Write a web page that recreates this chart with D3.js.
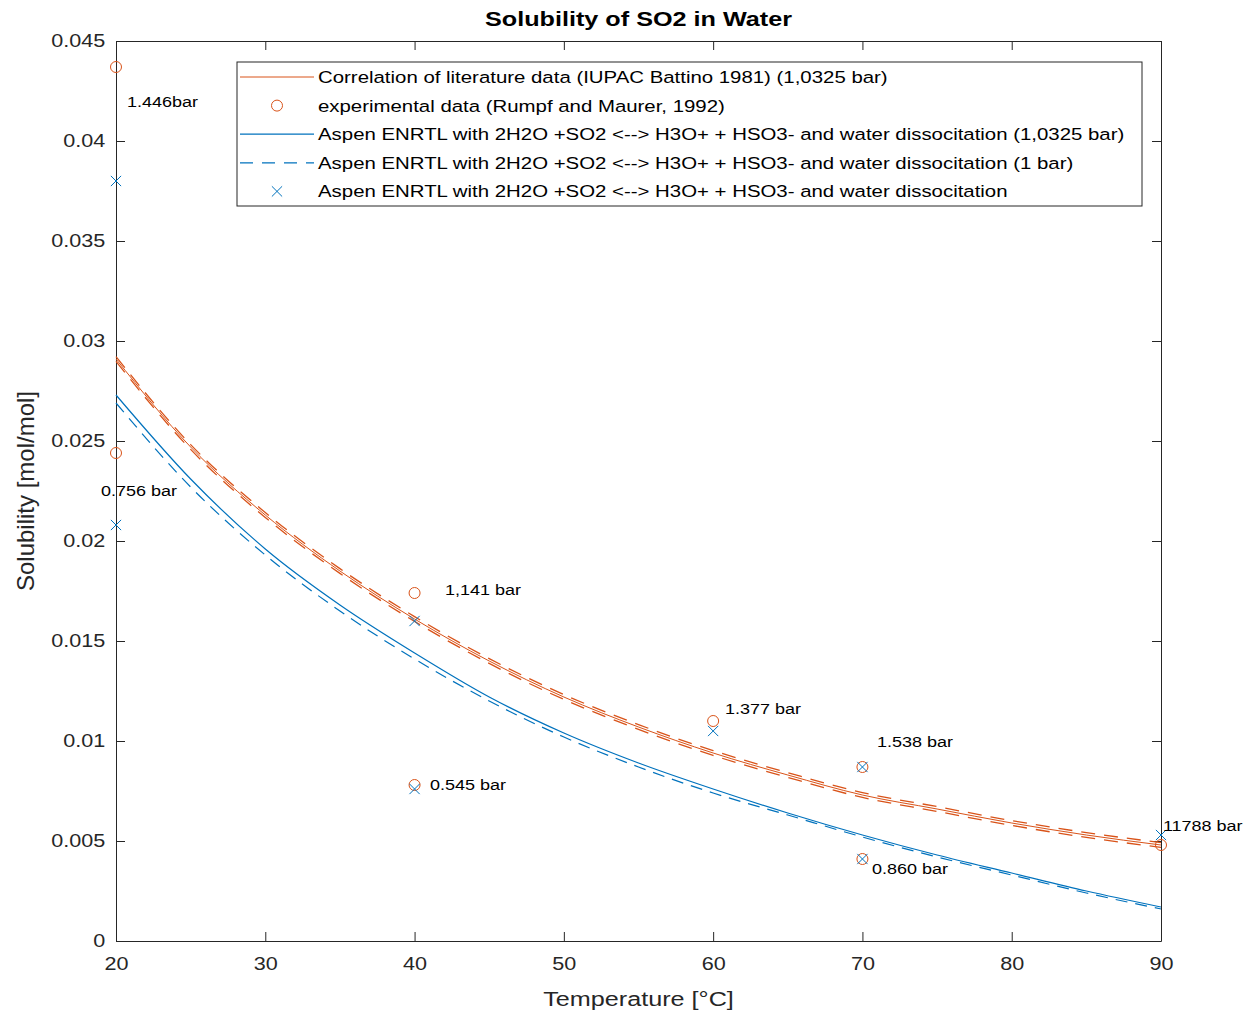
<!DOCTYPE html>
<html>
  <head>
    <meta charset=utf-8>
    <title>Solubility of SO2 in Water</title>
    <style>
      body{ margin:0; background:#fff; }
      text{ font-family:"Liberation Sans", Arial, sans-serif; fill:#262626; }
      .tick line{ stroke:#262626; }
      .domain{ stroke:#262626; }
    </style>
  </head>
  <body>
    <script src="https://d3js.org/d3.v7.min.js"></script>
    <script>
      // temperatures of the model curves [°C]
      var temps = [20, 25, 30, 35, 40, 45, 50, 55, 60, 65, 70, 75, 80, 85, 90];
      // literature correlation (1,0325 bar) and its band
      var corr    = [0.0291, 0.0247, 0.0213, 0.0185, 0.0161, 0.0140, 0.0122, 0.0107, 0.0094, 0.0083, 0.0073, 0.0066, 0.0059, 0.0053, 0.0048];
      var corrHi  = [0.02922, 0.02482, 0.02142, 0.01862, 0.01622, 0.01412, 0.01232, 0.01082, 0.00952, 0.00842, 0.00742, 0.00672, 0.00602, 0.00542, 0.00492];
      var corrLo  = [0.02898, 0.02458, 0.02118, 0.01838, 0.01598, 0.01388, 0.01208, 0.01058, 0.00928, 0.00818, 0.00718, 0.00648, 0.00578, 0.00518, 0.00468];
      // Aspen ENRTL model
      var aspen1032 = [0.0273, 0.0231, 0.0196, 0.0168, 0.0144, 0.0122, 0.0104, 0.0089, 0.0076, 0.0064, 0.0053, 0.0043, 0.0034, 0.0025, 0.0017];
      var aspen1    = [0.0269, 0.0227, 0.0193, 0.0165, 0.0141, 0.0120, 0.0102, 0.0087, 0.0074, 0.0063, 0.0052, 0.0042, 0.0033, 0.0024, 0.0016];
      // experimental points (Rumpf and Maurer) and Aspen at same pressure
      var expT   = [20, 20, 40, 40, 60, 70, 70, 90];
      var expSol = [0.0437, 0.0244, 0.0174, 0.0078, 0.0110, 0.0087, 0.0041, 0.0048];
      var aspSol = [0.0380, 0.0208, 0.0160, 0.0076, 0.0105, 0.0087, 0.0041, 0.0053];
      // pressure annotations
      var labText = ["1.446bar", "0.756 bar", "1,141 bar", "0.545 bar", "1.377 bar", "1.538 bar", "0.860 bar", "11788 bar"];
      var labT    = [20.74, 19.0, 42.04, 41.03, 60.8, 70.97, 70.64, 90.13];
      var labY    = [0.04195, 0.0225, 0.01755, 0.0078, 0.0116, 0.00995, 0.0036, 0.00575];

      var xTicks = [20, 30, 40, 50, 60, 70, 80, 90];
      var yTicks = [0, 0.005, 0.01, 0.015, 0.02, 0.025, 0.03, 0.035, 0.04, 0.045];

      var legendItems = [
        "Correlation of literature data (IUPAC Battino 1981) (1,0325 bar)",
        "experimental data (Rumpf and Maurer, 1992)",
        "Aspen ENRTL with 2H2O +SO2 <--> H3O+ + HSO3- and water dissocitation (1,0325 bar)",
        "Aspen ENRTL with 2H2O +SO2 <--> H3O+ + HSO3- and water dissocitation (1 bar)",
        "Aspen ENRTL with 2H2O +SO2 <--> H3O+ + HSO3- and water dissocitation"
      ];

      var orange = "#D95319", blue = "#0072BD";
      var sx = 1.2; // text in the picture is wider than plain Arial
      var W = 1251, H = 1016;
      var margin = {top: 41, right: 90, bottom: 75, left: 116};
      var pw = W - margin.left - margin.right, ph = H - margin.top - margin.bottom;

      var svg = d3.select("body").append("svg").attr("width", W).attr("height", H);
      var g = svg.append("g").attr("transform", "translate(" + margin.left + "," + margin.top + ")");

      var x = d3.scaleLinear().domain([20, 90]).range([0, pw]);
      var y = d3.scaleLinear().domain([0, 0.045]).range([ph, 0]);

      // box axes with inward ticks
      var fmtY = function(d){ return d === 0 ? "0" : String(+d.toFixed(3)); };
      var xAx = g.append("g").attr("transform", "translate(0," + ph + ")")
        .call(d3.axisBottom(x).tickValues(xTicks).tickSizeInner(-9).tickSizeOuter(0).tickPadding(16));
      var yAx = g.append("g")
        .call(d3.axisLeft(y).tickValues(yTicks).tickFormat(fmtY).tickSizeInner(-9).tickSizeOuter(0).tickPadding(9));
      g.append("g")
        .call(d3.axisTop(x).tickValues(xTicks).tickFormat("").tickSizeInner(-9).tickSizeOuter(0));
      g.append("g").attr("transform", "translate(" + pw + ",0)")
        .call(d3.axisRight(y).tickValues(yTicks).tickFormat("").tickSizeInner(-9).tickSizeOuter(0));
      g.selectAll(".tick text").style("font-size", "18px").attr("transform", "scale(" + sx + ",1)");

      var line = function(vals){
        return d3.line().curve(d3.curveMonotoneX)
          .x(function(d, i){ return x(temps[i]); }).y(function(d){ return y(d); })(vals);
      };

      g.append("path").attr("d", line(corrHi)).attr("fill", "none").attr("stroke", orange).attr("stroke-width", 1.3).attr("stroke-dasharray", "14,9");
      g.append("path").attr("d", line(corrLo)).attr("fill", "none").attr("stroke", orange).attr("stroke-width", 1.3).attr("stroke-dasharray", "14,9");
      g.append("path").attr("d", line(corr)).attr("fill", "none").attr("stroke", orange).attr("stroke-width", 1);
      g.append("path").attr("d", line(aspen1032)).attr("fill", "none").attr("stroke", blue).attr("stroke-width", 1.2);
      g.append("path").attr("d", line(aspen1)).attr("fill", "none").attr("stroke", blue).attr("stroke-width", 1.2).attr("stroke-dasharray", "12,8");

      // markers
      g.selectAll(".exp").data(expSol).enter().append("circle")
        .attr("cx", function(d, i){ return x(expT[i]); })
        .attr("cy", function(d){ return y(d); })
        .attr("r", 5.5).attr("fill", "none").attr("stroke", orange).attr("stroke-width", 1);
      var cross = d3.symbol().type(d3.symbolX).size(70);
      g.selectAll(".asp").data(aspSol).enter().append("path")
        .attr("d", cross)
        .attr("transform", function(d, i){ return "translate(" + x(expT[i]) + "," + y(d) + ")"; })
        .attr("fill", "none").attr("stroke", blue).attr("stroke-width", 1);

      // annotations
      g.selectAll(".lab").data(labText).enter().append("text")
        .attr("transform", function(d, i){ return "translate(" + x(labT[i]) + "," + y(labY[i]) + ")scale(" + sx + ",1)"; })
        .attr("dy", "0.35em")
        .style("font-size", "15px").style("fill", "#000")
        .text(function(d){ return d; });

      // legend
      var lg = g.append("g").attr("transform", "translate(" + (237 - margin.left) + "," + (62 - margin.top) + ")");
      lg.append("rect").attr("width", 905).attr("height", 144).attr("fill", "#fff").attr("stroke", "#262626").attr("stroke-width", 1);
      var rowY = function(i){ return 15 + i * 28.6; };
      lg.append("line").attr("x1", 3).attr("x2", 77).attr("y1", rowY(0)).attr("y2", rowY(0)).attr("stroke", orange);
      lg.append("circle").attr("cx", 40).attr("cy", rowY(1)).attr("r", 5.5).attr("fill", "none").attr("stroke", orange);
      lg.append("line").attr("x1", 3).attr("x2", 77).attr("y1", rowY(2)).attr("y2", rowY(2)).attr("stroke", blue).attr("stroke-width", 1.2);
      lg.append("line").attr("x1", 3).attr("x2", 77).attr("y1", rowY(3)).attr("y2", rowY(3)).attr("stroke", blue).attr("stroke-width", 1.2).attr("stroke-dasharray", "13,9");
      lg.append("path").attr("d", cross).attr("transform", "translate(40," + rowY(4) + ")").attr("fill", "none").attr("stroke", blue);
      lg.selectAll(".lt").data(legendItems).enter().append("text")
        .attr("transform", function(d, i){ return "translate(81," + rowY(i) + ")scale(" + sx + ",1)"; })
        .attr("dy", "0.35em")
        .style("font-size", "17px").style("fill", "#000")
        .text(function(d){ return d; });

      // title and axis labels
      svg.append("text").attr("transform", "translate(" + (margin.left + pw / 2) + ",26)scale(" + sx + ",1)")
        .attr("text-anchor", "middle")
        .style("font-size", "21px").style("font-weight", "bold").style("fill", "#000")
        .text("Solubility of SO2 in Water");
      svg.append("text").attr("transform", "translate(" + (margin.left + pw / 2) + ",1006)scale(" + sx + ",1)")
        .attr("text-anchor", "middle")
        .style("font-size", "21px")
        .text("Temperature [°C]");
      svg.append("text").attr("transform", "translate(34," + (margin.top + ph / 2) + ")rotate(-90)").attr("text-anchor", "middle")
        .style("font-size", "24px")
        .text("Solubility [mol/mol]");
    </script>
  </body>
</html>
